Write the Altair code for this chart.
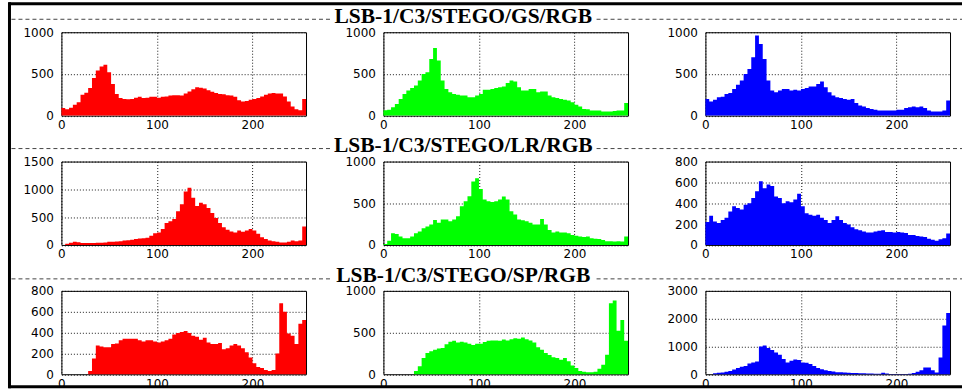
import altair as alt
import pandas as pd

# ---------------- data ----------------
BIN_WIDTH = 4
BIN_STARTS = list(range(0, 256, BIN_WIDTH))

ROW_TITLES = ["LSB-1/C3/STEGO/GS/RGB", "LSB-1/C3/STEGO/LR/RGB", "LSB-1/C3/STEGO/SP/RGB"]
X_TICKS = [0, 100, 200]

gs_r = [90, 75, 95, 130, 160, 250, 275, 330, 450, 540, 590, 610, 520, 380, 260, 210,
        200, 195, 200, 215, 225, 210, 215, 225, 225, 215, 225, 230, 240, 245, 245, 240,
        265, 290, 315, 340, 335, 325, 305, 285, 270, 260, 255, 245, 240, 225, 185, 170,
        175, 190, 200, 210, 230, 250, 265, 270, 265, 265, 230, 170, 110, 75, 65, 200]
gs_g = [65, 70, 100, 140, 200, 260, 300, 330, 360, 420, 500, 520, 680, 810, 660, 420,
        320, 280, 260, 250, 240, 240, 220, 220, 240, 260, 310, 310, 320, 330, 340, 350,
        390, 420, 410, 340, 300, 300, 320, 320, 280, 290, 290, 240, 220, 210, 200, 190,
        180, 160, 130, 110, 80, 75, 60, 60, 60, 50, 50, 50, 55, 60, 60, 150]
gs_b = [200, 170, 190, 220, 225, 260, 270, 320, 370, 420, 500, 560, 700, 960, 860, 680,
        420, 300, 280, 300, 320, 320, 300, 310, 300, 320, 330, 350, 350, 380, 410, 340,
        280, 240, 220, 210, 200, 190, 200, 150, 120, 110, 90, 80, 70, 60, 60, 60,
        60, 60, 70, 70, 90, 100, 110, 100, 110, 90, 60, 50, 50, 50, 60, 180]

lr_r = [0, 20, 40, 55, 50, 35, 35, 35, 35, 40, 40, 45, 55, 55, 60, 65,
        80, 85, 95, 105, 115, 120, 130, 165, 210, 225, 285, 395, 425, 465, 605, 730,
        960, 1030, 850, 700, 760, 730, 665, 575, 485, 395, 320, 275, 240, 225, 260, 235,
        260, 285, 260, 200, 140, 105, 80, 65, 55, 45, 45, 55, 80, 65, 80, 330]
lr_g = [10, 50, 140, 130, 100, 80, 80, 100, 140, 160, 200, 220, 245, 300, 265, 305,
        305, 285, 305, 345, 465, 525, 585, 760, 800, 670, 545, 525, 515, 525, 545, 580,
        545, 405, 365, 305, 295, 285, 265, 245, 245, 310, 245, 180, 150, 160, 150, 150,
        140, 120, 110, 100, 95, 100, 80, 75, 70, 60, 45, 45, 40, 45, 40, 100]
lr_b = [220, 280, 225, 210, 240, 260, 320, 370, 355, 340, 385, 400, 450, 515, 610, 545,
        580, 565, 465, 450, 400, 420, 410, 435, 490, 370, 305, 290, 280, 290, 260, 240,
        210, 240, 275, 240, 210, 195, 170, 150, 140, 130, 120, 120, 130, 135, 140, 125,
        125, 120, 125, 120, 115, 95, 95, 85, 80, 75, 60, 50, 40, 55, 65, 110]

sp_r = [0, 0, 0, 0, 0, 0, 0, 30, 150, 275, 265, 260, 260, 290, 295, 325,
        340, 340, 340, 340, 325, 315, 325, 325, 315, 305, 315, 325, 340, 380, 395, 405,
        415, 395, 370, 360, 330, 350, 305, 290, 290, 300, 240, 250, 275, 290, 275, 250,
        210, 160, 105, 70, 60, 40, 30, 40, 200, 680, 600, 390, 370, 290, 485, 520]
sp_g = [0, 0, 0, 0, 0, 0, 0, 0, 40, 95, 195, 255, 275, 295, 310, 315,
        360, 390, 400, 380, 390, 380, 365, 350, 365, 365, 385, 400, 405, 405, 400, 415,
        405, 420, 430, 425, 440, 420, 405, 380, 325, 295, 255, 230, 205, 195, 175, 195,
        155, 105, 75, 40, 30, 25, 25, 30, 65, 115, 235, 850, 885, 520, 650, 400]
sp_b = [0, 0, 35, 50, 60, 85, 120, 170, 220, 265, 300, 385, 425, 460, 1000, 1030,
        945, 870, 785, 700, 545, 425, 485, 530, 510, 425, 410, 365, 300, 220, 180, 145,
        120, 95, 75, 70, 60, 55, 45, 45, 35, 35, 25, 25, 15, 15, 55, 25,
        10, 10, 10, 10, 10, 20, 45, 85, 145, 240, 240, 145, 60, 600, 1750, 2200]

RED, GREEN, BLUE = "#ff0000", "#00ff00", "#0000ff"

ROWS = [
    [(gs_r, RED, 1000, [0, 500, 1000]),
     (gs_g, GREEN, 1000, [0, 500, 1000]),
     (gs_b, BLUE, 1000, [0, 500, 1000])],
    [(lr_r, RED, 1500, [0, 500, 1000, 1500]),
     (lr_g, GREEN, 1000, [0, 500, 1000]),
     (lr_b, BLUE, 800, [0, 200, 400, 600, 800])],
    [(sp_r, RED, 800, [0, 200, 400, 600, 800]),
     (sp_g, GREEN, 1000, [0, 500, 1000]),
     (sp_b, BLUE, 3000, [0, 1000, 2000, 3000])],
]

PANEL_W = 245
PANEL_H = 83.5
ONE = pd.DataFrame({"d": [0]})


def panel(values, color, ymax, yticks):
    # step-after outline: each bin's count holds from its start to the next edge
    df = pd.DataFrame({
        "edge": BIN_STARTS + [BIN_STARTS[-1] + BIN_WIDTH],
        "count": list(values) + [values[-1]],
    })
    return alt.Chart(df).mark_area(color=color, interpolate="step-after", opacity=1).encode(
        x=alt.X("edge:Q", title=None,
                scale=alt.Scale(domain=[0, 256], nice=False, zero=False),
                axis=alt.Axis(values=X_TICKS, labelPadding=4, labelFlush=False, format="d")),
        y=alt.Y("count:Q", title=None,
                scale=alt.Scale(domain=[0, ymax], nice=False),
                axis=alt.Axis(values=yticks, labelPadding=8, format="d")),
    ).properties(width=PANEL_W, height=PANEL_H)


def decorations(title, title_y, dash_y, frame=False):
    layers = [
        alt.Chart(ONE).mark_text(font="Liberation Serif", fontWeight="bold", fontSize=21.5,
                                 align="center", baseline="alphabetic", color="#000").encode(
            x=alt.value(402.5), y=alt.value(title_y), text=alt.value(title)),
        alt.Chart(ONE).mark_rule(color="#444", strokeWidth=1, strokeDash=[4, 3]).encode(
            x=alt.value(-50), x2=alt.value(269), y=alt.value(dash_y)),
        alt.Chart(ONE).mark_rule(color="#444", strokeWidth=1, strokeDash=[4, 3]).encode(
            x=alt.value(536), x2=alt.value(902), y=alt.value(dash_y)),
    ]
    if frame:
        layers += [
            alt.Chart(ONE).mark_rule(color="#000", strokeWidth=3).encode(
                x=alt.value(-53), x2=alt.value(902), y=alt.value(-28.5)),
            alt.Chart(ONE).mark_rule(color="#000", strokeWidth=3).encode(
                x=alt.value(-53), x2=alt.value(902), y=alt.value(355)),
            alt.Chart(ONE).mark_rule(color="#000", strokeWidth=3).encode(
                x=alt.value(-52), y=alt.value(-30), y2=alt.value(356.5)),
        ]
    return layers


TITLE_Y = [-9, -9.5, -8.5]
DASH_Y = [-13, -13, -12]

cells = []
for r, row in enumerate(ROWS):
    for c, (vals, color, ymax, yticks) in enumerate(row):
        p = panel(vals, color, ymax, yticks)
        if c == 0:
            p = alt.layer(p, *decorations(ROW_TITLES[r], TITLE_Y[r], DASH_Y[r], frame=(r == 0)))
        cells.append(p)

chart = alt.concat(
    *cells, columns=3, bounds="flush",
    spacing={"row": 45.5, "column": 77.5},
    padding={"left": 6.5, "top": 0, "right": 0, "bottom": 0},
    background="white",
).configure_view(
    stroke="#000", strokeWidth=1
).configure_axis(
    domain=False, ticks=False, grid=True, gridColor="#000", gridDash=[1, 2],
    gridWidth=1, gridOpacity=0.9, labelFont="DejaVu Sans", labelFontSize=12,
    labelColor="#000",
)

chart.save("out.html", embed_options={"renderer": "svg", "actions": False})
